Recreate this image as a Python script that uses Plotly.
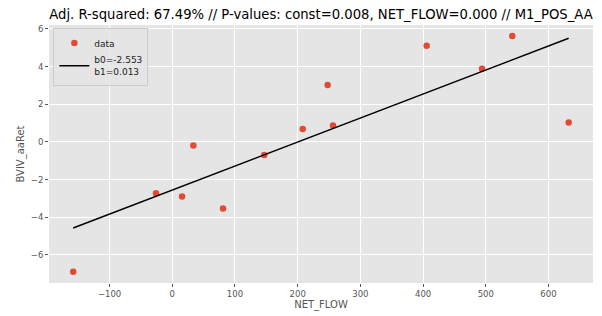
import plotly.graph_objects as go
import numpy as np

net_flow = [-158, -26, 15.6, 33.6, 80.9, 146.7, 208, 247.8, 256.3, 405.7, 494, 542.3, 632.2]
bviv_aaret = [-6.89, -2.72, -2.90, -0.19, -3.54, -0.69, 0.69, 3.03, 0.87, 5.11, 3.89, 5.63, 1.03]
b0 = -2.553
b1 = 0.01275
b0_label = "-2.553"
b1_label = "0.013"
title_text = "Adj. R-squared: 67.49% // P-values: const=0.008, NET_FLOW=0.000 // M1_POS_AA"

x_line = np.array([min(net_flow), max(net_flow)])
y_line = b0 + b1 * x_line

fig = go.Figure()
fig.add_trace(go.Scatter(x=net_flow, y=bviv_aaret, mode="markers", name="data",
                         marker=dict(color="#E24A33", size=6.5)))
fig.add_trace(go.Scatter(x=x_line, y=y_line, mode="lines",
                         name=f"b0={b0_label}<br>b1={b1_label}",
                         line=dict(color="black", width=1.5)))

axis_common = dict(showgrid=True, gridcolor="white", gridwidth=1, zeroline=False,
                   ticks="outside", ticklen=3, tickcolor="#555555", automargin=False,
                   tickfont=dict(family="DejaVu Sans", size=8.5, color="#555555"),
                   showline=False)

fig.update_layout(
    width=602, height=316,
    margin=dict(l=49, r=9, t=25, b=33),
    paper_bgcolor="white", plot_bgcolor="#E5E5E5",
    title=dict(text=title_text, x=(49 + 593) / 2 / 602, xanchor="center", y=0.955, yanchor="middle",
               font=dict(family="DejaVu Sans", size=13.2, color="black")),
    xaxis=dict(range=[-196.6, 671], tickvals=[-100, 0, 100, 200, 300, 400, 500, 600],
               ticktext=["\u2212100", "0", "100", "200", "300", "400", "500", "600"],
               title=dict(text="NET_FLOW", standoff=2,
                          font=dict(family="DejaVu Sans", size=10, color="#555555")),
               **axis_common),
    yaxis=dict(range=[-7.49, 6.21], tickvals=[-6, -4, -2, 0, 2, 4, 6],
               ticktext=["\u22126", "\u22124", "\u22122", "0", "2", "4", "6"],
               title=dict(text="BVIV_aaRet", standoff=4,
                          font=dict(family="DejaVu Sans", size=10, color="#555555")),
               **axis_common),
    legend=dict(x=0.008, y=0.99, xanchor="left", yanchor="top",
                bgcolor="rgba(229,229,229,0.8)", bordercolor="#cccccc", borderwidth=1,
                font=dict(family="DejaVu Sans", size=9, color="#222222"),
                tracegroupgap=0, itemwidth=30),
    showlegend=True,
)

fig.write_html("out.html", config={"displayModeBar": False},
               post_script="document.body.style.margin='0';")
